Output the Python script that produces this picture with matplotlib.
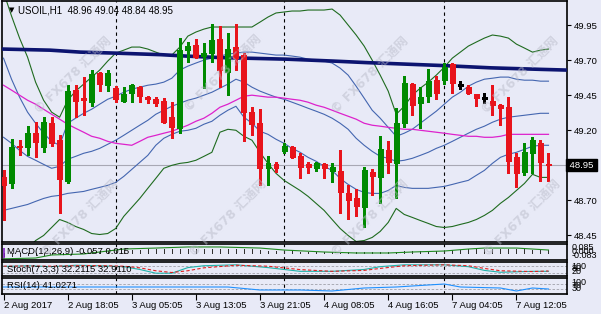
import matplotlib
matplotlib.use("Agg")
import matplotlib.pyplot as plt
from matplotlib.patches import Rectangle

# ---- candles (USOIL H1), bar index 0..68 ----
opens = [48.864, 48.821, 49.089, 49.079, 49.179, 49.079, 49.250, 49.129, 48.836, 49.486,
         49.429, 49.400, 49.607, 49.521, 49.500, 49.407, 49.464, 49.507, 49.436, 49.421,
         49.407, 49.293, 49.214, 49.771, 49.807, 49.732, 49.750, 49.850, 49.614, 49.793,
         49.736, 49.329, 49.250, 48.929, 48.957, 49.050, 49.079, 49.014, 48.957, 48.929,
         48.957, 48.907, 48.907, 48.750, 48.714, 48.650, 48.900, 48.864, 49.057, 48.964,
         49.250, 49.529, 49.393, 49.443, 49.557, 49.557, 49.671, 49.521, 49.507, 49.457,
         49.429, 49.407, 49.379, 49.364, 49.007, 48.900, 49.036, 49.107, 48.96]
highs = [48.914, 49.136, 49.129, 49.229, 49.257, 49.293, 49.293, 49.164, 49.521, 49.521,
         49.579, 49.629, 49.614, 49.629, 49.514, 49.507, 49.529, 49.514, 49.443, 49.436,
         49.429, 49.400, 49.857, 49.829, 49.850, 49.821, 49.957, 49.943, 49.893, 49.957,
         49.750, 49.364, 49.350, 49.014, 48.971, 49.107, 49.086, 49.036, 48.971, 48.971,
         48.964, 48.964, 49.057, 48.807, 48.779, 48.936, 48.921, 49.157, 49.121, 49.357,
         49.586, 49.536, 49.507, 49.636, 49.586, 49.679, 49.679, 49.550, 49.521, 49.457,
         49.464, 49.521, 49.386, 49.436, 49.036, 49.107, 49.150, 49.129, 49.04]
lows = [48.557, 48.786, 49.021, 49.021, 49.007, 49.043, 49.086, 48.607, 48.821, 49.293,
        49.307, 49.371, 49.479, 49.479, 49.400, 49.400, 49.400, 49.400, 49.393, 49.371,
        49.250, 49.143, 49.179, 49.686, 49.714, 49.500, 49.686, 49.507, 49.450, 49.629,
        49.121, 49.164, 48.807, 48.807, 48.900, 49.036, 49.000, 48.857, 48.893, 48.907,
        48.857, 48.829, 48.607, 48.571, 48.586, 48.507, 48.736, 48.679, 48.893, 48.714,
        49.221, 49.307, 49.214, 49.400, 49.421, 49.529, 49.464, 49.493, 49.457, 49.371,
        49.393, 49.307, 49.236, 48.893, 48.793, 48.879, 48.893, 48.836, 48.84]
closes = [48.807, 49.079, 49.079, 49.179, 49.114, 49.257, 49.107, 48.850, 49.479, 49.407,
          49.414, 49.600, 49.529, 49.607, 49.421, 49.457, 49.521, 49.443, 49.421, 49.393,
          49.257, 49.221, 49.771, 49.800, 49.721, 49.750, 49.843, 49.629, 49.779, 49.714,
          49.329, 49.243, 48.929, 48.964, 48.929, 49.086, 49.007, 48.936, 48.936, 48.964,
          48.929, 48.936, 48.757, 48.700, 48.657, 48.914, 48.871, 49.064, 48.971, 49.250,
          49.536, 49.379, 49.436, 49.550, 49.464, 49.650, 49.536, 49.521, 49.464, 49.429,
          49.429, 49.379, 49.357, 48.979, 48.893, 49.043, 49.129, 48.971, 48.95]

# ---- indicators on the price chart (one value per bar) ----
bb_upper = [49.714, 49.564, 49.436, 49.329, 49.250, 49.179, 49.121, 49.093, 49.250, 49.286,
            49.321, 49.350, 49.386, 49.421, 49.443, 49.471, 49.493, 49.507, 49.521, 49.529,
            49.543, 49.571, 49.629, 49.657, 49.679, 49.700, 49.714, 49.729, 49.743, 49.750,
            49.757, 49.757, 49.750, 49.743, 49.736, 49.736, 49.729, 49.721, 49.707, 49.700,
            49.693, 49.679, 49.643, 49.593, 49.514, 49.429, 49.343, 49.286, 49.221, 49.157,
            49.179, 49.207, 49.250, 49.293, 49.336, 49.386, 49.436, 49.471, 49.514, 49.543,
            49.564, 49.571, 49.579, 49.579, 49.564, 49.557, 49.557, 49.550, 49.550]
bb_mid = [49.150, 49.107, 49.057, 49.014, 48.986, 48.957, 48.929, 48.943, 48.993, 49.014,
          49.036, 49.050, 49.071, 49.100, 49.129, 49.164, 49.200, 49.236, 49.271, 49.314,
          49.343, 49.371, 49.393, 49.414, 49.429, 49.450, 49.471, 49.500, 49.529, 49.564,
          49.543, 49.507, 49.479, 49.457, 49.436, 49.421, 49.400, 49.379, 49.357, 49.336,
          49.314, 49.286, 49.250, 49.207, 49.143, 49.093, 49.050, 49.014, 49.000, 48.979,
          48.986, 49.000, 49.021, 49.043, 49.071, 49.093, 49.121, 49.150, 49.179, 49.207,
          49.229, 49.257, 49.279, 49.293, 49.300, 49.307, 49.314, 49.321, 49.321]
bb_lower = [48.629, 48.643, 48.657, 48.671, 48.693, 48.714, 48.729, 48.736, 48.750, 48.757,
            48.764, 48.779, 48.793, 48.807, 48.829, 48.871, 48.921, 48.971, 49.021, 49.093,
            49.143, 49.171, 49.193, 49.200, 49.214, 49.243, 49.264, 49.307, 49.343, 49.371,
            49.293, 49.250, 49.193, 49.171, 49.136, 49.107, 49.071, 49.043, 49.007, 48.979,
            48.943, 48.914, 48.857, 48.814, 48.779, 48.757, 48.750, 48.750, 48.771, 48.807,
            48.793, 48.786, 48.786, 48.786, 48.793, 48.800, 48.814, 48.829, 48.843, 48.879,
            48.914, 48.964, 49.007, 49.029, 49.043, 49.064, 49.086, 49.093, 49.093]
env_upper = [50.186, 50.014, 49.857, 49.721, 49.543, 49.414, 49.329, 49.293, 49.414, 49.479,
             49.529, 49.579, 49.629, 49.693, 49.750, 49.771, 49.793, 49.793, 49.779, 49.757,
             49.736, 49.736, 49.793, 49.871, 49.900, 49.921, 49.936, 49.936, 49.936, 49.936,
             49.936, 49.936, 49.971, 50.007, 50.036, 50.043, 50.050, 50.050, 50.057, 50.057,
             50.057, 50.064, 50.021, 49.950, 49.879, 49.800, 49.700, 49.593, 49.479, 49.314,
             49.371, 49.450, 49.500, 49.543, 49.593, 49.650, 49.714, 49.757, 49.800, 49.829,
             49.857, 49.879, 49.871, 49.857, 49.814, 49.786, 49.757, 49.771, 49.779]
env_lower = [48.071, 48.186, 48.271, 48.350, 48.414, 48.450, 48.507, 48.564, 48.543, 48.514,
             48.493, 48.464, 48.457, 48.464, 48.500, 48.586, 48.650, 48.714, 48.786, 48.857,
             48.929, 48.950, 48.964, 48.971, 48.986, 49.014, 49.043, 49.186, 49.207, 49.200,
             49.157, 49.129, 49.043, 48.964, 48.893, 48.843, 48.807, 48.771, 48.729, 48.679,
             48.629, 48.564, 48.500, 48.450, 48.407, 48.414, 48.436, 48.479, 48.543, 48.643,
             48.600, 48.579, 48.557, 48.536, 48.514, 48.507, 48.514, 48.529, 48.543, 48.564,
             48.593, 48.629, 48.679, 48.721, 48.771, 48.821, 48.886, 48.864, 48.864]
ma_slow = [49.521, 49.486, 49.450, 49.414, 49.386, 49.350, 49.314, 49.279, 49.243, 49.214,
           49.186, 49.157, 49.143, 49.121, 49.107, 49.100, 49.093, 49.121, 49.150, 49.164,
           49.179, 49.193, 49.214, 49.236, 49.264, 49.286, 49.321, 49.364, 49.386, 49.414,
           49.443, 49.450, 49.443, 49.436, 49.436, 49.429, 49.421, 49.414, 49.400, 49.379,
           49.364, 49.343, 49.321, 49.300, 49.279, 49.250, 49.236, 49.229, 49.221, 49.214,
           49.207, 49.207, 49.200, 49.193, 49.186, 49.179, 49.171, 49.164, 49.157, 49.157,
           49.150, 49.150, 49.157, 49.171, 49.171, 49.171, 49.171, 49.171, 49.171]
trend_x = [-0.2, 5.8, 9.6, 13.9, 19.6, 22.7, 27.1, 35.2, 41.2, 45.4, 54.9, 60.8, 67.1, 70.3]
trend_y = [49.779, 49.771, 49.757, 49.750, 49.739, 49.729, 49.718, 49.707, 49.693, 49.682,
           49.661, 49.645, 49.634, 49.629]

# ---- sub windows ----
macd_x = [0, 4, 6, 10, 15, 19, 23, 27, 32, 35, 40, 44, 48, 51, 55, 58, 60, 64, 68]
macd_sig = [-0.070, -0.061, -0.027, -0.016, 0.039, 0.050, 0.062, 0.062, 0.050, 0.028,
            0.006, -0.005, -0.005, 0.006, 0.017, 0.039, 0.050, 0.050, 0.028]
macd_hist = [-0.040, -0.038, -0.035, -0.030, -0.026, -0.022, -0.018, -0.016, -0.008, 0.000,
             0.006, 0.012, 0.018, 0.022, 0.026, 0.030, 0.030, 0.032, 0.034, 0.034,
             0.034, 0.036, 0.040, 0.042, 0.042, 0.042, 0.042, 0.042, 0.042, 0.042,
             0.038, 0.034, 0.028, 0.022, 0.018, 0.015, 0.012, 0.010, 0.008, 0.006,
             0.005, 0.004, 0.004, 0.004, 0.004, 0.004, 0.005, 0.006, 0.008, 0.010,
             0.012, 0.014, 0.016, 0.018, 0.020, 0.022, 0.026, 0.030, 0.034, 0.036,
             0.038, 0.040, 0.040, 0.038, 0.036, 0.034, 0.032, 0.030, 0.026]
stoch_x = [0, 3, 6, 9, 12, 15, 17, 19, 21, 23, 25, 29, 33, 37, 41, 45, 47, 50, 55, 58, 60, 62, 66, 68]
stoch_main = [72, 78, 70, 82, 78, 70, 46, 14, 14, 62, 78, 86, 62, 30, 30, 46, 70, 86, 86, 70, 38, 22, 30, 30]
stoch_sig = [74, 76, 74, 78, 79, 74, 60, 35, 20, 35, 60, 82, 74, 45, 30, 38, 55, 78, 86, 78, 55, 35, 28, 33]
rsi_x = [0, 10, 18, 28, 32, 37, 41, 45, 49, 55, 57, 62, 64, 66, 68]
rsi_vals = [48, 48, 48, 48, 24, 24, 16, 40, 48, 72, 48, 40, 16, 40, 32]

price_ticks = [48.45, 48.70, 48.95, 49.20, 49.45, 49.70, 49.95]
day_breaks = [14, 35, 55]
time_ticks = [0, 8, 16, 24, 32, 40, 48, 56, 64]
time_labels = ["2 Aug 2017", "2 Aug 18:05", "3 Aug 05:05", "3 Aug 13:05", "3 Aug 21:05",
               "4 Aug 08:05", "4 Aug 16:05", "7 Aug 04:05", "7 Aug 12:05"]
last_price = 48.95

BG = "#e8eaf7"
UP, DOWN = "#008a00", "#e8141c"
W, H = 601, 314
plt.rcParams["font.family"] = ["Liberation Sans", "DejaVu Sans"]

fig = plt.figure(figsize=(W / 100, H / 100), dpi=100, facecolor=BG)


def panel(x0, y0, x1, y1):
    ax = fig.add_axes([x0 / W, 1 - y1 / H, (x1 - x0) / W, (y1 - y0) / H])
    ax.set_facecolor(BG)
    ax.set_xlim(-0.19, 70.31)
    for s in ax.spines.values():
        s.set_color("black")
        s.set_linewidth(1.2)
    ax.tick_params(axis="x", bottom=False, labelbottom=False)
    ax.yaxis.tick_right()
    ax.tick_params(axis="y", right=True, left=False, length=3, width=0.8, pad=2,
                   labelsize=6.8, colors="black")
    for b in day_breaks:
        ax.axvline(b, color="black", lw=0.8, ls=(0, (3, 3)), zorder=1)
    return ax


ax = panel(2, 1, 567, 242)
ax.set_ylim(48.4036, 50.1214)
ax.set_yticks(price_ticks)
# the last-price box sits on the 48.95 tick, so that tick has no own label
ax.set_yticklabels(["" if v == last_price else f"{v:.2f}" for v in price_ticks])
ax.axhline(last_price, color="#a8a8b4", lw=0.8, zorder=1)

xs = list(range(len(opens)))
ax.plot(xs, env_upper, color="#1f6b1f", lw=0.8, zorder=2)
ax.plot(xs, env_lower, color="#1f6b1f", lw=0.8, zorder=2)
for band in (bb_upper, bb_mid, bb_lower):
    ax.plot(xs, band, color="#4466b0", lw=0.8, zorder=2)
ax.plot(xs, ma_slow, color="#dd22cc", lw=0.9, zorder=2)
ax.plot(trend_x, trend_y, color="#0c1470", lw=2.6, zorder=3, solid_capstyle="butt")

bw = 0.62
for i, (o, h, l, c) in enumerate(zip(opens, highs, lows, closes)):
    col = UP if c > o else (DOWN if c < o else "black")
    ax.vlines(i, l, h, color=col, lw=0.9, zorder=4, antialiased=False)
    if c == o:
        ax.hlines(o, i - bw / 2, i + bw / 2, color=col, lw=0.9, zorder=5, antialiased=False)
    else:
        ax.add_patch(Rectangle((i - bw / 2, min(o, c)), bw, abs(c - o), facecolor=col,
                               edgecolor=col, lw=0.5, zorder=5, antialiased=False))

ax.text(1.0, last_price, f" {last_price:.2f} ", transform=ax.get_yaxis_transform(),
        ha="left", va="center", color="white", fontsize=6.8, zorder=10, clip_on=False,
        bbox=dict(boxstyle="square,pad=0.15", fc="black", ec="black"))
ax.text(0.012, 0.962, "\u25bc", transform=ax.transAxes, fontsize=5, va="center",
        family="DejaVu Sans")
ax.text(0.029, 0.962, "USOIL,H1  48.96 49.04 48.84 48.95", transform=ax.transAxes,
        fontsize=7, va="center")

# MACD
axm = panel(2, 244, 567, 260)
axm.set_ylim(-0.083, 0.095)
axm.set_yticks([])
axm.vlines(xs, 0, macd_hist, color="#303030", lw=0.7, antialiased=False)
axm.vlines(0, -0.07, 0.05, color="#8020c0", lw=1.2)
axm.plot(macd_x, macd_sig, color="#1f8a1f", lw=0.8)
axm.text(0.009, 0.5, "MACD(12,26,9) -0.057 0.015", transform=axm.transAxes, fontsize=6.8,
         va="center")
for v, y in (("0.085", 0.75), ("0.000", 0.5), ("-0.083", 0.25)):
    axm.text(1.008, y, v, transform=axm.transAxes, fontsize=6.5, va="center")

# Stochastic
axs = panel(2, 262, 567, 276)
axs.set_ylim(-10, 110)
axs.set_yticks([])
for lvl in (20, 80):
    axs.axhline(lvl, color="#a0a0aa", lw=0.6, ls=(0, (3, 2)))
axs.plot(stoch_x, stoch_main, color="#20b2aa", lw=0.8)
axs.plot(stoch_x, stoch_sig, color="#e02020", lw=0.8, ls=(0, (3, 2)))
axs.text(0.009, 0.5, "Stoch(7,3,3) 32.2115 32.9110", transform=axs.transAxes, fontsize=6.8,
         va="center")
for v, y in (("100", 0.7), ("80", 0.55), ("20", 0.35)):
    axs.text(1.008, y, v, transform=axs.transAxes, fontsize=6.5, va="center")

# RSI
axr = panel(2, 278, 567, 294)
axr.set_ylim(-8, 120)
axr.set_yticks([])
for lvl in (30, 70):
    axr.axhline(lvl, color="#a0a0aa", lw=0.6, ls=(0, (3, 2)))
axr.plot(rsi_x, rsi_vals, color="#1e90ff", lw=0.8)
axr.text(0.009, 0.5, "RSI(14) 41.0271", transform=axr.transAxes, fontsize=6.8, va="center")
for v, y in (("100", 0.7), ("70", 0.55), ("30", 0.35)):
    axr.text(1.008, y, v, transform=axr.transAxes, fontsize=6.5, va="center")

axr.set_xticks(time_ticks)
axr.set_xticklabels(time_labels)
axr.tick_params(axis="x", bottom=True, labelbottom=True, length=4, width=0.8, pad=1,
                labelsize=6.8, direction="out")
for lab in axr.get_xticklabels():
    lab.set_horizontalalignment("left")

# watermark
for cx, cy in [(73, 75), (223, 73), (370, 75), (520, 75), (80, 218), (228, 218), (370, 218), (522, 218)]:
    fig.text(cx / W, 1 - cy / H, "\u00a9 FX678 \u6c47\u901a\u7f51", rotation=45,
             ha="center", va="center", fontsize=9, fontweight="bold", color="#b8bac8",
             alpha=0.5, family=["DejaVu Sans", "Noto Sans CJK SC"], zorder=20)

fig.savefig("out.png", dpi=100, facecolor=BG)
